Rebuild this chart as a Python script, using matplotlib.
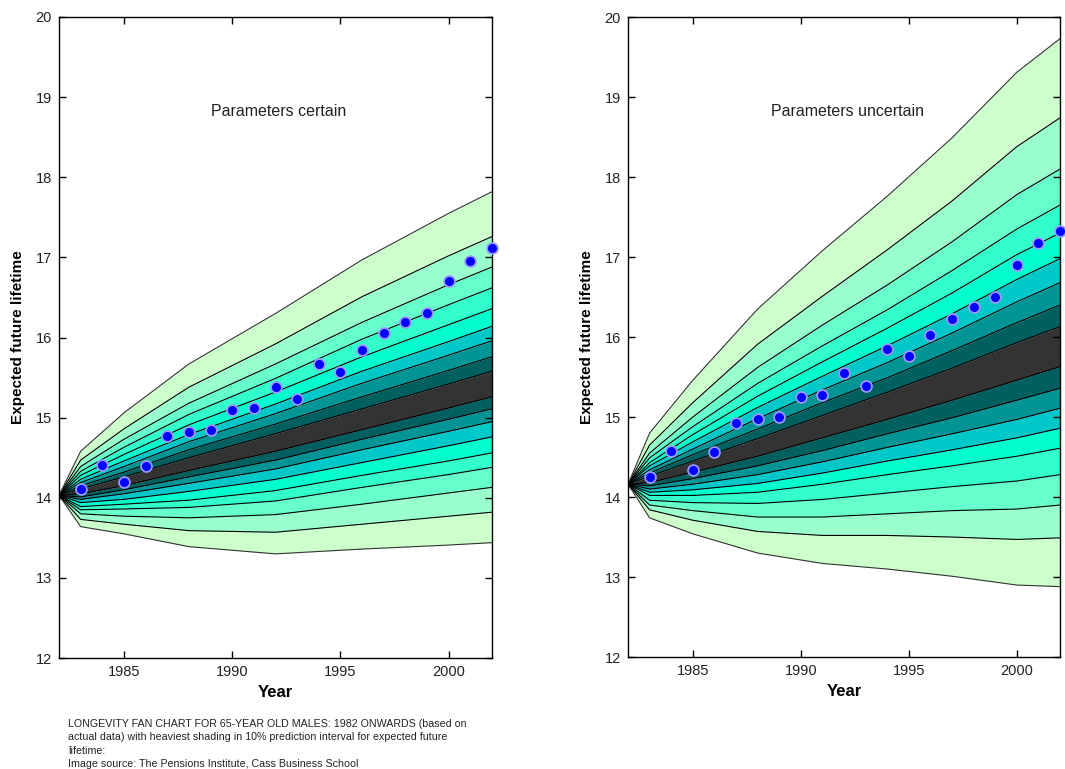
import matplotlib
matplotlib.use("Agg")
import matplotlib.pyplot as plt
import numpy as np

plt.rcParams['font.family'] = ['Liberation Sans', 'DejaVu Sans']

# ---------------- data ----------------
obs_years = list(range(1983, 2003))
left_obs = [14.11, 14.41, 14.20, 14.40, 14.77, 14.82, 14.85, 15.10, 15.12, 15.38,
            15.23, 15.67, 15.57, 15.85, 16.06, 16.19, 16.31, 16.71, 16.96, 17.12]
right_obs = [14.25, 14.58, 14.34, 14.56, 14.93, 14.97, 15.00, 15.25, 15.27, 15.55,
             15.39, 15.85, 15.76, 16.03, 16.23, 16.37, 16.50, 16.90, 17.17, 17.32]

percentiles = [5, 10, 15, 20, 25, 30, 35, 40, 45, 55, 60, 65, 70, 75, 80, 85, 90, 95]

left_fan_years = [1982, 1983, 1985, 1988, 1992, 1996, 2000, 2002]
left_fan = [
    [14.03, 13.64, 13.55, 13.39, 13.30, 13.36, 13.41, 13.44],
    [14.03, 13.73, 13.67, 13.59, 13.57, 13.67, 13.77, 13.82],
    [14.03, 13.80, 13.77, 13.75, 13.79, 13.92, 14.06, 14.13],
    [14.03, 13.85, 13.86, 13.88, 13.96, 14.13, 14.29, 14.38],
    [14.03, 13.89, 13.92, 13.97, 14.09, 14.28, 14.46, 14.56],
    [14.03, 13.94, 13.98, 14.08, 14.23, 14.44, 14.65, 14.76],
    [14.03, 13.98, 14.05, 14.18, 14.36, 14.60, 14.83, 14.95],
    [14.03, 14.01, 14.10, 14.26, 14.47, 14.73, 14.98, 15.11],
    [14.03, 14.05, 14.15, 14.34, 14.58, 14.85, 15.12, 15.26],
    [14.03, 14.11, 14.26, 14.50, 14.80, 15.11, 15.42, 15.58],
    [14.03, 14.15, 14.32, 14.60, 14.92, 15.26, 15.59, 15.76],
    [14.03, 14.19, 14.39, 14.70, 15.05, 15.43, 15.78, 15.96],
    [14.03, 14.23, 14.46, 14.79, 15.17, 15.58, 15.95, 16.14],
    [14.03, 14.28, 14.54, 14.91, 15.32, 15.76, 16.16, 16.36],
    [14.03, 14.33, 14.63, 15.04, 15.49, 15.98, 16.41, 16.62],
    [14.03, 14.39, 14.73, 15.18, 15.67, 16.19, 16.66, 16.88],
    [14.03, 14.47, 14.86, 15.38, 15.92, 16.51, 17.02, 17.26],
    [14.03, 14.58, 15.06, 15.67, 16.30, 16.97, 17.55, 17.82],
]

right_fan_years = [1982, 1983, 1985, 1988, 1991, 1994, 1997, 2000, 2002]
right_fan = [
    [14.16, 13.74, 13.54, 13.30, 13.17, 13.10, 13.01, 12.90, 12.88],
    [14.16, 13.84, 13.71, 13.57, 13.52, 13.52, 13.50, 13.47, 13.49],
    [14.16, 13.90, 13.83, 13.75, 13.75, 13.79, 13.83, 13.85, 13.90],
    [14.16, 13.96, 13.93, 13.92, 13.97, 14.05, 14.13, 14.20, 14.28],
    [14.16, 14.02, 14.02, 14.06, 14.16, 14.28, 14.39, 14.51, 14.61],
    [14.16, 14.06, 14.09, 14.17, 14.30, 14.45, 14.59, 14.74, 14.86],
    [14.16, 14.10, 14.16, 14.28, 14.44, 14.62, 14.79, 14.97, 15.11],
    [14.16, 14.14, 14.23, 14.39, 14.58, 14.79, 14.99, 15.21, 15.36],
    [14.16, 14.18, 14.31, 14.51, 14.74, 14.97, 15.21, 15.46, 15.63],
    [14.16, 14.26, 14.45, 14.73, 15.02, 15.31, 15.61, 15.93, 16.13],
    [14.16, 14.30, 14.53, 14.85, 15.18, 15.49, 15.83, 16.18, 16.40],
    [14.16, 14.34, 14.60, 14.98, 15.34, 15.68, 16.05, 16.44, 16.68],
    [14.16, 14.39, 14.69, 15.12, 15.51, 15.89, 16.29, 16.72, 16.98],
    [14.16, 14.43, 14.78, 15.26, 15.69, 16.11, 16.55, 17.03, 17.30],
    [14.16, 14.49, 14.88, 15.42, 15.89, 16.34, 16.83, 17.35, 17.65],
    [14.16, 14.55, 15.00, 15.62, 16.15, 16.65, 17.19, 17.78, 18.10],
    [14.16, 14.65, 15.18, 15.91, 16.51, 17.09, 17.70, 18.38, 18.74],
    [14.16, 14.80, 15.46, 16.35, 17.08, 17.76, 18.49, 19.31, 19.73],
]

panel_titles = ["Parameters certain", "Parameters uncertain"]
xticks = [1985, 1990, 1995, 2000]
yticks = [12, 13, 14, 15, 16, 17, 18, 19, 20]
caption = ("LONGEVITY FAN CHART FOR 65-YEAR OLD MALES: 1982 ONWARDS (based on\n"
           "actual data) with heaviest shading in 10% prediction interval for expected future\n"
           "lifetime:\n"
           "Image source: The Pensions Institute, Cass Business School")

# band colours from the outermost (5-10 / 90-95) inward, then the central 45-55 band
outer_to_inner = ['#ccffcc', '#99ffcc', '#66ffcc', '#33ffcc', '#00ffcc',
                  '#00c8c8', '#009494', '#005f5f']
center_color = '#333333'

fig = plt.figure(figsize=(10.65, 7.69), dpi=100)
ax_pos = [[0.0554, 0.1443, 0.4066, 0.8336], [0.5897, 0.1456, 0.4056, 0.8322]]

text_col = '#222222'

for k, (fy, fan, obs, title) in enumerate([
        (left_fan_years, left_fan, left_obs, panel_titles[0]),
        (right_fan_years, right_fan, right_obs, panel_titles[1])]):
    ax = fig.add_axes(ax_pos[k])
    fan = np.array(fan)
    n = len(fan)  # 18 lines -> 17 bands
    for b in range(n - 1):
        lo, hi = fan[b], fan[b + 1]
        if b < 8:
            col = outer_to_inner[b]
        elif b == 8:
            col = center_color
        else:
            col = outer_to_inner[n - 2 - b]
        ax.fill_between(fy, lo, hi, color=col, lw=0, zorder=1)
    for i in range(n):
        c = '#333333' if i in (0, n - 1) else 'black'
        ax.plot(fy, fan[i], color=c, lw=0.8, zorder=2)
    ax.plot(obs_years, obs, 'o', color='#0000ff', markersize=7.8,
            markeredgecolor='#9999ff', markeredgewidth=1.3, zorder=5,
            clip_on=False)

    ax.set_xlim(1982, 2002)
    ax.set_ylim(12, 20)
    ax.set_xticks(xticks)
    ax.set_yticks(yticks)
    ax.tick_params(direction='in', top=True, right=True, length=5, width=1,
                   labelsize=10.5, colors='black', labelcolor=text_col, pad=5)
    for s in ax.spines.values():
        s.set_linewidth(1.0)
    ax.set_xlabel("Year", fontsize=12, fontweight='bold', color='black', labelpad=4)
    ax.set_ylabel("Expected future lifetime", fontsize=11, fontweight='bold',
                  color='black', labelpad=8)
    ax.text(1992.15, 18.82, title, ha='center', va='center', fontsize=11.5,
            color=text_col)

fig.text(68 / 1065, 1 - 719 / 769, caption, ha='left', va='top', fontsize=7.7,
         color=text_col, linespacing=1.42)

fig.savefig("out.png", dpi=100)
